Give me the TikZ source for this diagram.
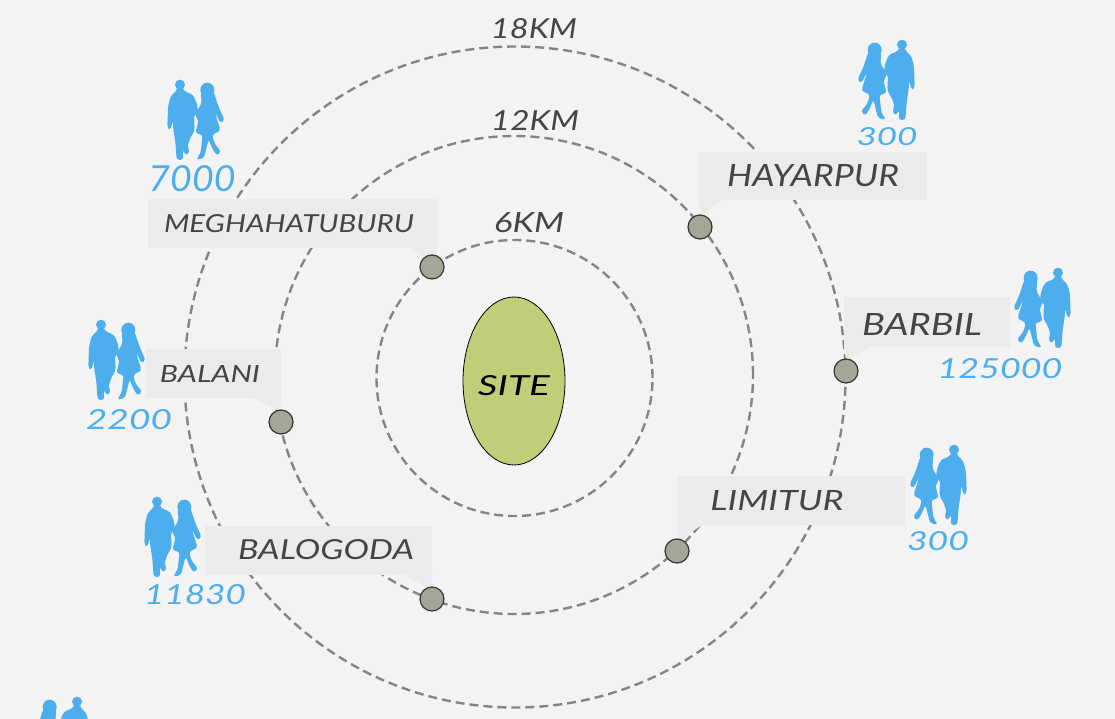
\documentclass[tikz,border=0pt]{standalone}
\usepackage{fontspec}
\usepackage{graphicx}
\usetikzlibrary{shapes.geometric}
\setmainfont{Lato}
\definecolor{bgc}{HTML}{F3F3F3}
\definecolor{boxc}{HTML}{EBEBEB}
\definecolor{ringc}{HTML}{858585}
\definecolor{inkc}{HTML}{454545}
\definecolor{bluec}{HTML}{4DAEEE}
\definecolor{dotc}{HTML}{A5A698}
\definecolor{sitec}{HTML}{BFCF78}
\tikzset{
 ring/.style={draw=ringc,line width=2.4pt,dash pattern=on 9pt off 5pt},
 tag/.style={fill=boxc,draw=none},
 word/.style={inner sep=0pt,text=inkc,font=\itshape},
 count/.style={inner sep=0pt,text=bluec,font=\itshape},
 stop/.style={circle,fill=dotc,draw=black!80,line width=1.2pt,minimum size=24pt,inner sep=0pt},
 pics/couple/.style={code={
  \begin{scope}[x=0.3333pt,y=-0.3333pt,shift={(-114,-30)},fill=bluec,draw=none]
   \fill (150,44) circle (15);
   \fill[rounded corners=3pt] (142,52) -- (158,52) -- (160,62) -- (190,75) -- (202,105) -- (204,130) -- (192,134)
     -- (194,182) -- (180,205) -- (172,232) -- (180,245) -- (168,257) -- (158,238) -- (160,270) -- (140,270)
     -- (136,215) -- (130,178) -- (128,150) -- (122,180) -- (112,174) -- (114,110) -- (122,78) -- (140,62) -- cycle;
   \fill (232,60) ellipse (21 and 22);
   \fill[rounded corners=3pt] (212,66) -- (252,66) -- (258,88) -- (268,116) -- (284,150) -- (272,160)
     -- (254,125) -- (272,182) -- (246,194) -- (254,222) -- (274,245) -- (260,257) -- (248,238) -- (236,208)
     -- (222,264) -- (198,270) -- (212,248) -- (218,194) -- (196,190) -- (206,150) -- (200,144) -- (196,132) -- (215,100) -- cycle;
  \end{scope}}},
}
\begin{document}
\begin{tikzpicture}[x=1pt,y=-1pt]
\useasboundingbox[fill=bgc] (0,0) rectangle (1115,719);
\clip (0,0) rectangle (1115,719);
% rings
\node[ring,circle,minimum size=661pt,inner sep=0pt] (r18) at (515,377) {};
\node[ring,circle,minimum size=478pt,inner sep=0pt] (r12) at (514,375) {};
\node[ring,circle,minimum size=276pt,inner sep=0pt] (r6) at (514.5,378) {};
% site
\node[ellipse,draw=black,line width=0.8pt,fill=sitec,minimum width=102pt,minimum height=168pt,inner sep=0pt] (site) at (514,381) {};
\node[inner sep=0pt,text=black,font=\itshape] (sitetxt) at (514,386) {\resizebox{72pt}{20pt}{SITE}};
% radii labels
\node[word] (k18) at (534,29) {\resizebox{86pt}{20pt}{18KM}};
\node[word] (k12) at (535,120) {\resizebox{88pt}{20pt}{12KM}};
\node[word] (k6) at (529,223) {\resizebox{70pt}{20pt}{6KM}};
% tags
\fill[tag] (148,199) rectangle (437,248);
\fill[tag] (410,248) -- (437,248) -- (433,264) -- cycle;
\fill[tag] (699,152) rectangle (927,200);
\fill[tag] (699,200) -- (722,200) -- (701,216) -- cycle;
\fill[tag] (844,297) rectangle (1010,347);
\fill[tag] (844,347) -- (870,347) -- (846,360) -- cycle;
\fill[tag] (146,349) rectangle (281,398);
\fill[tag] (281,398) -- (254,398) -- (280,411) -- cycle;
\fill[tag] (205,526) rectangle (432,575);
\fill[tag] (432,575) -- (405,575) -- (431,590) -- cycle;
\fill[tag] (677,476) rectangle (905,525);
\fill[tag] (677,525) -- (702,525) -- (678,541) -- cycle;
% dots
\node[stop] (d1) at (432,267) {};
\node[stop] (d2) at (700,227) {};
\node[stop] (d3) at (846,371) {};
\node[stop] (d4) at (281,422) {};
\node[stop] (d5) at (432,599) {};
\node[stop] (d6) at (677,551) {};
% names
\node[word] (n1) at (289,224) {\resizebox{250pt}{18pt}{MEGHAHATUBURU}};
\node[word] (n2) at (813,176) {\resizebox{172pt}{22pt}{HAYARPUR}};
\node[word] (n3) at (922,324) {\resizebox{120pt}{22pt}{BARBIL}};
\node[word] (n4) at (210,374) {\resizebox{100pt}{17pt}{BALANI}};
\node[word] (n5) at (326,550) {\resizebox{176pt}{20pt}{BALOGODA}};
\node[word] (n6) at (777,501) {\resizebox{133pt}{20pt}{LIMITUR}};
% counts
\node[count] (c1) at (192,179) {\resizebox{87pt}{26pt}{7000}};
\node[count] (c2) at (887,137) {\resizebox{61pt}{18pt}{300}};
\node[count] (c3) at (1000,369) {\resizebox{125pt}{20pt}{125000}};
\node[count] (c4) at (129,420) {\resizebox{86pt}{20pt}{2200}};
\node[count] (c5) at (195,595) {\resizebox{102pt}{20pt}{11830}};
\node[count] (c6) at (938,541) {\resizebox{62pt}{19pt}{300}};
% people
\pic at (168,80) {couple};
\pic[xscale=-1] at (914,40) {couple};
\pic[xscale=-1] at (1070,268) {couple};
\pic at (89,320) {couple};
\pic at (145,497) {couple};
\pic[xscale=-1] at (966,445) {couple};
\pic[xscale=-1] at (89,697) {couple};
\end{tikzpicture}
\end{document}
